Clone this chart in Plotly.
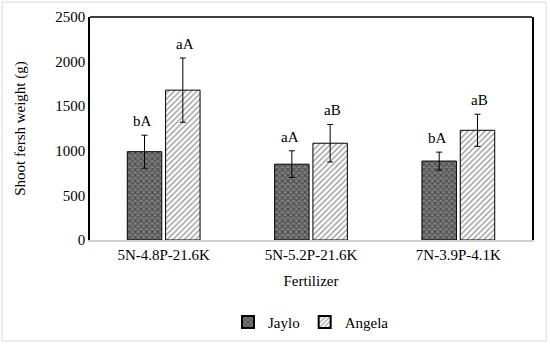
import plotly.graph_objects as go

categories = ["5N-4.8P-21.6K", "5N-5.2P-21.6K", "7N-3.9P-4.1K"]
jaylo = [990, 850, 885]
jaylo_err = [185, 150, 100]
angela = [1680, 1085, 1230]
angela_err = [360, 210, 180]
jaylo_letters = ["bA", "aA", "bA"]
angela_letters = ["aA", "aB", "aB"]
y_ticks = [0, 500, 1000, 1500, 2000, 2500]

font = "Liberation Serif"

fig = go.Figure()
fig.add_trace(go.Bar(
    name="Jaylo", x=categories, y=jaylo,
    error_y=dict(type="data", array=jaylo_err, color="black", thickness=1, width=3),
    marker=dict(color="#8a8a8a", line=dict(color="black", width=1),
                pattern=dict(shape="x", fgcolor="#1a1a1a", bgcolor="#808080", size=4, solidity=0.5)),
))
fig.add_trace(go.Bar(
    name="Angela", x=categories, y=angela,
    error_y=dict(type="data", array=angela_err, color="black", thickness=1, width=3),
    marker=dict(color="white", line=dict(color="black", width=1),
                pattern=dict(shape="/", fgcolor="#333333", bgcolor="white", size=4, solidity=0.35)),
))

for i, c in enumerate(categories):
    fig.add_annotation(x=c, y=jaylo[i] + jaylo_err[i], text=jaylo_letters[i], showarrow=False,
                       xshift=-21, yshift=14, font=dict(family=font, size=15, color="black"))
    fig.add_annotation(x=c, y=angela[i] + angela_err[i], text=angela_letters[i], showarrow=False,
                       xshift=21, yshift=14, font=dict(family=font, size=15, color="black"))

fig.add_shape(type="line", xref="paper", yref="paper", x0=0, x1=1, y0=1, y1=1,
              line=dict(color="black", width=1.5))
fig.add_shape(type="rect", xref="paper", yref="paper", x0=-0.199, x1=1.032, y0=-0.453, y1=1.067,
              line=dict(color="#d9d9d9", width=1))

fig.update_layout(
    width=550, height=344,
    margin=dict(l=90, r=18, t=17, b=104, autoexpand=False),
    paper_bgcolor="white", plot_bgcolor="white",
    barmode="group", bargap=0.48, bargroupgap=0.1,
    font=dict(family=font, size=15, color="black"),
    showlegend=True,
    legend=dict(orientation="h", x=0.5, xanchor="center", y=-0.295, yanchor="top",
                font=dict(family=font, size=15), traceorder="normal",
                itemsizing="constant"),
    xaxis=dict(title=dict(text="Fertilizer", font=dict(family=font, size=15), standoff=14),
               showline=True, linecolor="#d0d0d0", linewidth=1.5, ticks="",
               tickfont=dict(family=font, size=15), automargin=False),
    yaxis=dict(title=dict(text="Shoot fersh weight (g)", font=dict(family=font, size=15), standoff=26),
               range=[0, 2500], tickvals=y_ticks, showline=True, mirror=True,
               linecolor="black", linewidth=1.5, showgrid=False, zeroline=False, ticks="",
               tickfont=dict(family=font, size=15), automargin=False),
)

fig.write_html("out.html", config={"displayModeBar": False},
               post_script="document.body.style.margin='0';document.body.style.overflow='hidden';")
